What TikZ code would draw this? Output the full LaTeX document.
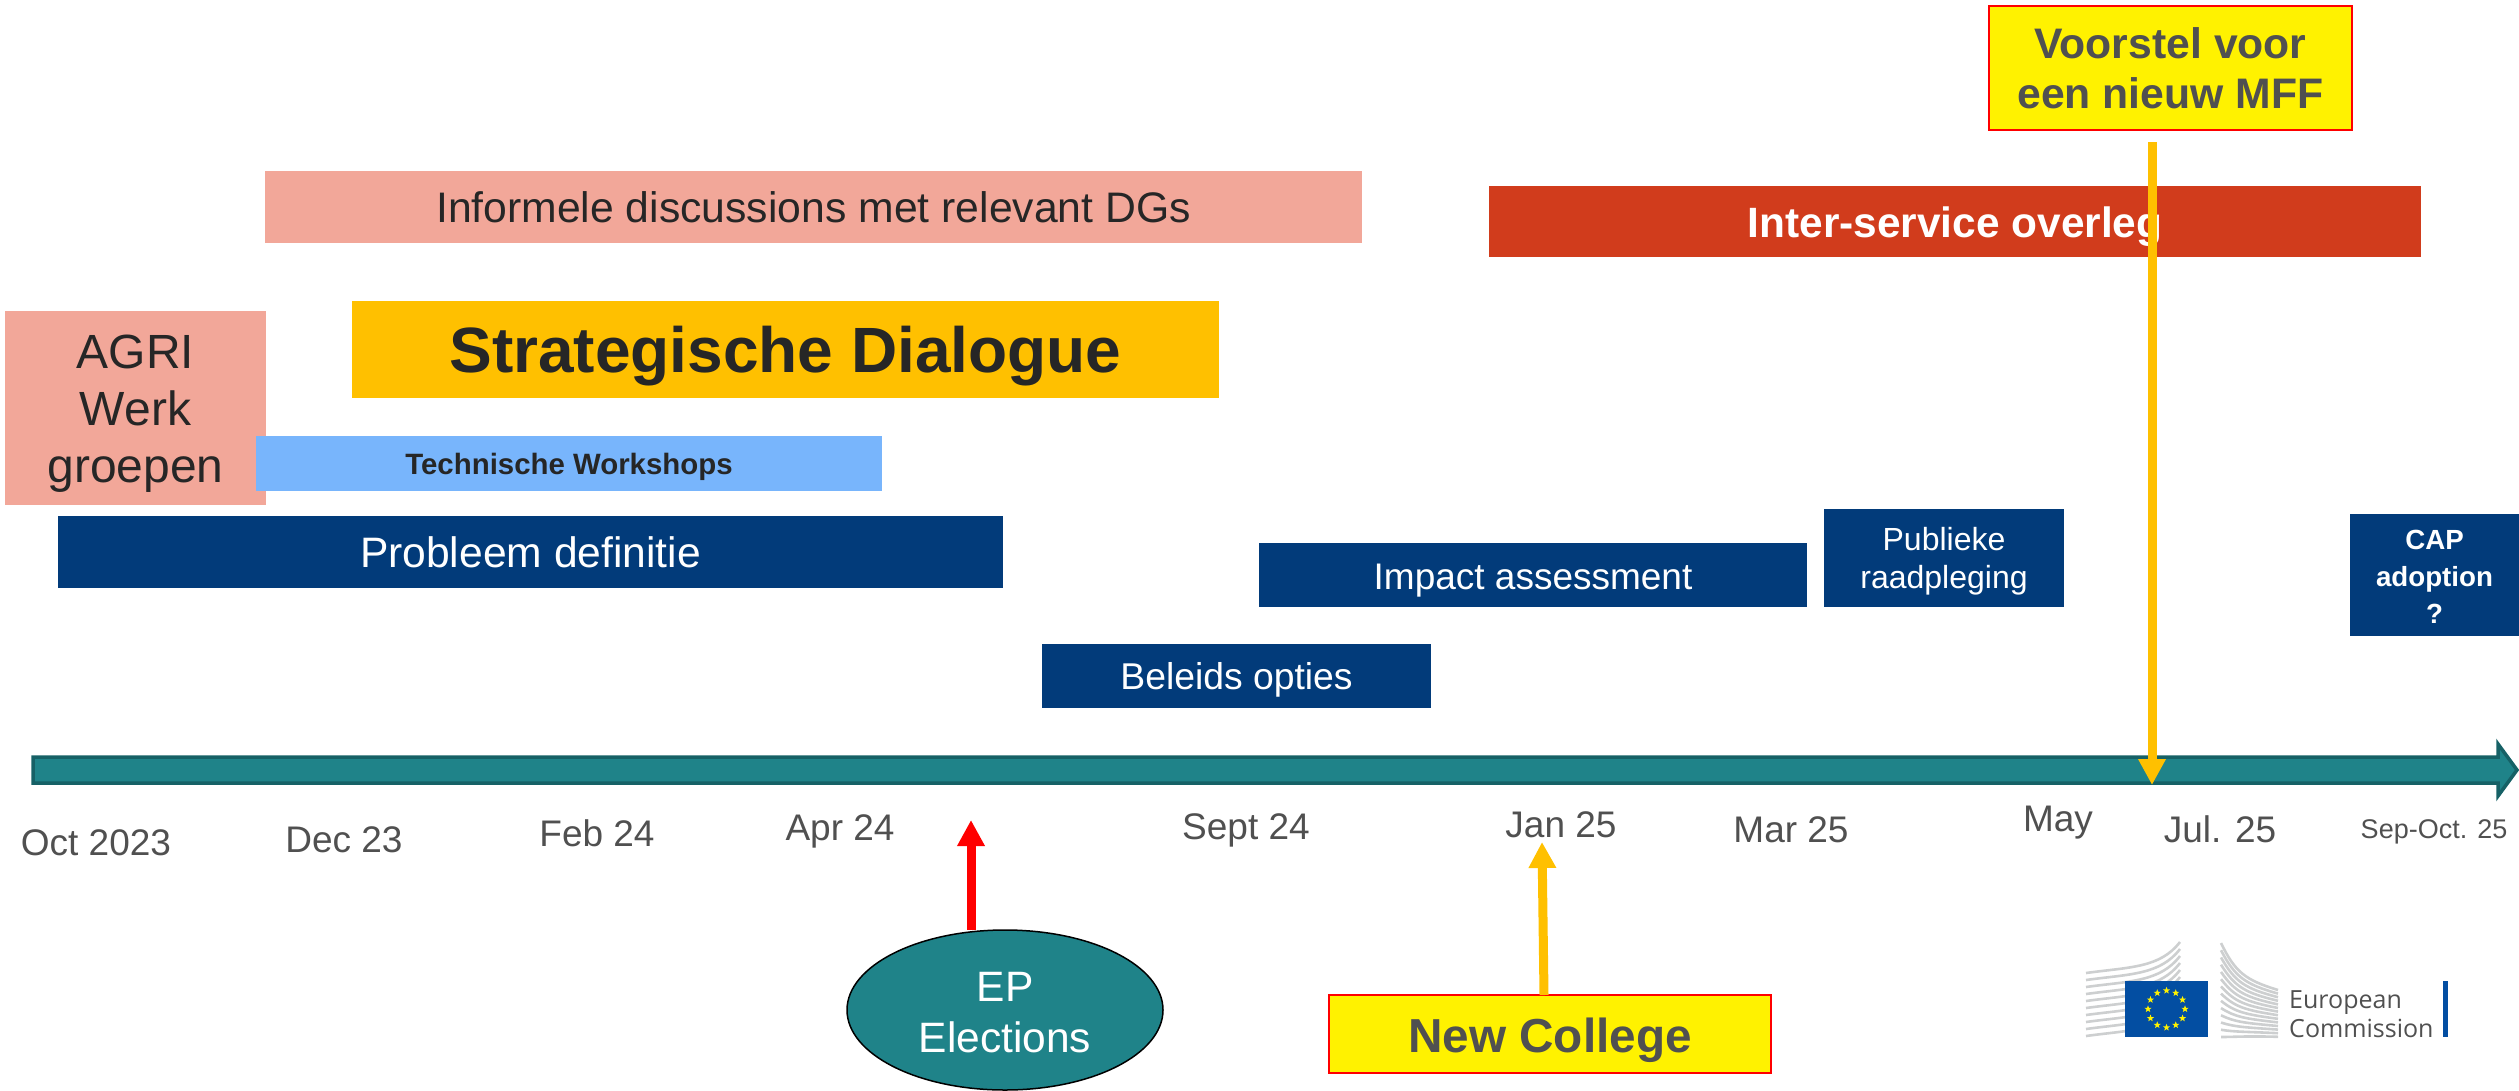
\documentclass[tikz,border=0pt]{standalone}
\usepackage{fontspec}
\setmainfont{Liberation Sans}
\newfontfamily\logofont{Open Sans}
\usetikzlibrary{arrows.meta,shapes.geometric}
\definecolor{navy}{HTML}{023B7A}
\definecolor{salmon}{HTML}{F2A799}
\definecolor{amber}{HTML}{FFC000}
\definecolor{skyb}{HTML}{78B5FC}
\definecolor{rust}{HTML}{D13C1C}
\definecolor{teal1}{HTML}{1F8389}
\definecolor{teal2}{HTML}{166166}
\definecolor{dark}{HTML}{262626}
\definecolor{datec}{HTML}{505050}
\definecolor{logogrey}{HTML}{CDCFD0}
\definecolor{eublue}{HTML}{034EA2}
\newcommand{\dn}[2]{\raisebox{-#1pt}[\height][\depth]{#2}}
\tikzset{
  box/.style={anchor=north west,inner sep=0pt,outer sep=0pt,align=center},
  bar/.style={box,fill=navy,text=white},
  pink/.style={box,fill=salmon,text=dark},
  note/.style={box,fill=yellow,draw=red,line width=1.5pt,text=datec,font=\bfseries},
  datelab/.style={inner sep=0pt,text=datec,font=\fontsize{37}{42}\selectfont},
  yarrow/.style={draw=amber,line width=9pt,-{Triangle[width=26pt,length=26pt,color=amber]}},
  rarrow/.style={draw=red,line width=9pt,-{Triangle[width=26pt,length=26pt,color=red]}},
  stripe/.style={draw=logogrey,line width=2.6pt}
}
\begin{document}
\begin{tikzpicture}[x=1pt,y=-1pt]
\useasboundingbox (0,0) rectangle (2519,1090);
% axis
\draw[fill=teal1,draw=teal2,line width=3.5pt,line join=miter]
  (33,757) -- (2498,757) -- (2498,744) -- (2517,770) -- (2498,796) -- (2498,783) -- (33,783) -- cycle;
\coordinate (axisA) at (2152,785);
% boxes
\node[pink,minimum width=1097pt,minimum height=72pt,font=\fontsize{42.7}{49}\selectfont] (informele) at (265,171) {Informele discussions met relevant DGs};
\node[box,fill=rust,text=white,minimum width=932pt,minimum height=71pt,font=\bfseries\fontsize{42.4}{49}\selectfont] (inter) at (1489,186) {\dn{5}{Inter-service overleg}};
\node[box,fill=amber,text=dark,minimum width=867pt,minimum height=97pt,font=\bfseries\fontsize{64}{74}\selectfont] (strat) at (352,301) {\dn{7}{Strategische Dialogue}};
\node[pink,minimum width=261pt,minimum height=194pt,font=\fontsize{48}{57}\selectfont] (agri) at (5,311) {\dn{5.5}{AGRI}\\\dn{5.5}{Werk}\\\dn{5.5}{groepen}};
\node[box,fill=skyb,text=dark,minimum width=626pt,minimum height=55pt,font=\bfseries\fontsize{29.4}{34}\selectfont] (tech) at (256,436) {\dn{3}{Technische Workshops}};
\node[bar,minimum width=945pt,minimum height=72pt,font=\fontsize{42.6}{49}\selectfont] (prob) at (58,516) {\dn{0.5}{Probleem definitie}};
\node[bar,minimum width=548pt,minimum height=64pt,font=\fontsize{37}{43}\selectfont] (impact) at (1259,543) {\dn{6}{Impact assessment}};
\node[bar,minimum width=240pt,minimum height=98pt,font=\fontsize{32}{38}\selectfont] (publiek) at (1824,509) {\dn{3}{Publieke}\\\dn{3}{raadpleging}};
\node[bar,minimum width=169pt,minimum height=122pt,font=\bfseries\fontsize{27.7}{37}\selectfont] (cap) at (2350,514) {\dn{2}{CAP}\\\dn{2}{adoption}\\\dn{2}{?}};
\node[bar,minimum width=389pt,minimum height=64pt,font=\fontsize{37.3}{43}\selectfont] (beleid) at (1042,644) {\dn{4}{Beleids opties}};
\node[note,minimum width=363pt,minimum height=124pt,font=\bfseries\fontsize{42.7}{50}\selectfont] (voorstel) at (1989,6) {Voorstel voor\\een nieuw MFF};
\node[note,minimum width=442pt,minimum height=78pt,font=\bfseries\fontsize{47.7}{55}\selectfont] (college) at (1329,995) {\dn{6}{New College}};
\node[ellipse,fill=teal1,draw=black,line width=1.5pt,text=white,inner sep=0pt,minimum width=316pt,minimum height=160pt,align=center,font=\fontsize{42.5}{51}\selectfont] (ep) at (1005,1010) {\dn{3}{EP}\\\dn{3}{Elections}};
% date labels
\node[datelab] (d1) at (96,843) {Oct 2023};
\node[datelab] (d2) at (344,840) {Dec 23};
\node[datelab] (d3) at (597,833) {Feb 24};
\node[datelab] (d4) at (840,831) {Apr 24};
\node[datelab] (d5) at (1246,830) {Sept 24};
\node[datelab] (d6) at (1561,825) {Jan 25};
\node[datelab] (d7) at (1791,830) {Mar 25};
\node[datelab] (d8) at (2058,823) {May};
\node[datelab] (d9) at (2220,829) {Jul. 25};
\node[datelab,font=\fontsize{27}{31}\selectfont] (d10) at (2434,832) {Sep-Oct. 25};
% arrows
\coordinate (voorstelfoot) at (2152,142);
\draw[yarrow] (voorstelfoot) -- (axisA);
\coordinate (collegetip) at (1542,842);
\coordinate (epfoot) at (971,930);
\coordinate (eptip) at (971,820);
\coordinate (collegetop) at (1544,995);
\draw[rarrow] (epfoot) -- (eptip);
\draw[yarrow] (collegetop) -- (collegetip);
% logo
\foreach \i in {0,...,9} {
  \pgfmathsetmacro{\dy}{\i*7}
  \draw[stripe] (2086,973+\dy) .. controls (2130,967+\dy) and (2160,968+\dy) .. (2180,942+\dy);
}
\foreach \i in {0,...,13} {
  \pgfmathsetmacro{\ya}{943+\i*7.23}
  \pgfmathsetmacro{\yb}{990+\i*3.6}
  \pgfmathsetmacro{\ym}{972+\i*5}
  \pgfmathsetmacro{\yc}{980+\i*4.3}
  \draw[stripe] (2221,\ya) .. controls (2235,\ym) and (2245,\yc) .. (2278,\yb);
}
\fill[eublue] (2125,981) rectangle (2208,1037);
\foreach \i in {0,...,11} {
  \node[star,star points=5,star point ratio=2.4,fill=yellow,inner sep=0pt,minimum size=7.5pt] (eustar\i) at ({2166.5+18.5*sin(\i*30)},{1009-18.5*cos(\i*30)}) {};
}
\node[anchor=base west,inner sep=0pt,text=datec,font=\logofont\fontsize{25}{29}\selectfont] (logoa) at (2289,1008) {European};
\node[anchor=base west,inner sep=0pt,text=datec,font=\logofont\fontsize{25}{29}\selectfont] (logob) at (2289,1037) {Commission};
\fill[eublue] (2443,981) rectangle (2448,1037);
\end{tikzpicture}
\end{document}
